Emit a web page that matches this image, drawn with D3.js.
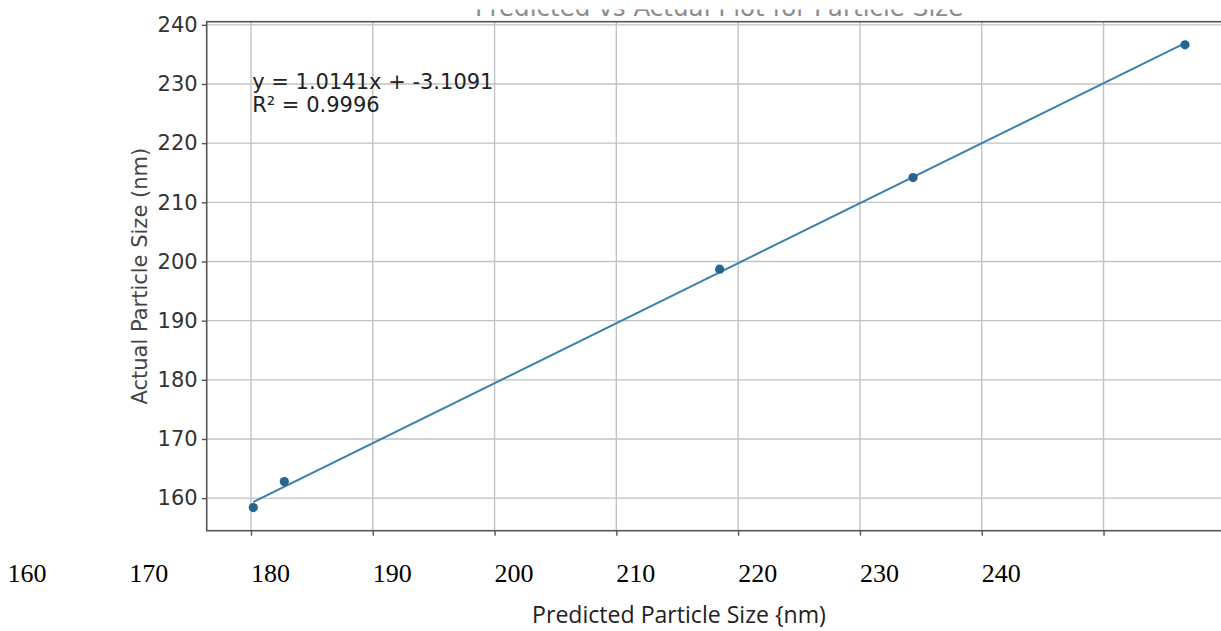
<!DOCTYPE html>
<html>
<head>
<meta charset="utf-8">
<script src="https://cdn.jsdelivr.net/npm/d3@7"></script>
<style>
  html, body { margin: 0; padding: 0; background: #fff; overflow: hidden; }
  svg { display: block; }
</style>
</head>
<body>
<svg id="chart" width="1221" height="631"></svg>
<script>
// ---- data ----
const predicted = [160.19, 162.74, 198.48, 214.36, 236.69];
const actual    = [158.41, 162.81, 198.71, 214.19, 236.62];
const fitSlope = 1.0141;
const fitIntercept = -3.1091;
const rSquared = 0.9996;
const xGridValues = [160, 170, 180, 190, 200, 210, 220, 230];
const yTickValues = [160, 170, 180, 190, 200, 210, 220, 230, 240];
const xTickLabels = ["160", "170", "180", "190", "200", "210", "220", "230", "240"];
const xLabelShift = 20; // the printed x labels are offset by two grid steps in the source
const titleText = "Predicted vs Actual Plot for Particle Size";
const xTitle = "Predicted Particle Size {nm)";
const yTitle = "Actual Particle Size (nm)";

// ---- layout ----
const svg = d3.select("#chart");
const plot = { left: 206.7, right: 1231.6, top: 21.7, bottom: 530.7 };
const pad = (ext) => { const m = (ext[1] - ext[0]) * 0.05; return [ext[0] - m, ext[1] + m]; };

const x = d3.scaleLinear().domain(pad(d3.extent(predicted))).range([plot.left, plot.right]);
const y = d3.scaleLinear().domain(pad(d3.extent(actual))).range([plot.bottom, plot.top]);
const xLabelScale = d3.scaleLinear()
  .domain(x.domain().map(d => d + xLabelShift)).range(x.range());

const tickFont = "'DejaVu Sans', sans-serif";
const fs = 21;

// grid
const grid = svg.append("g");
grid.selectAll("line.vx").data(xGridValues).join("line")
  .attr("x1", d => x(d)).attr("x2", d => x(d))
  .attr("y1", plot.top).attr("y2", plot.bottom)
  .attr("stroke", "#c2c2c2").attr("stroke-width", 1.4);
grid.selectAll("line.hy").data(yTickValues).join("line")
  .attr("x1", plot.left).attr("x2", plot.right)
  .attr("y1", d => y(d)).attr("y2", d => y(d))
  .attr("stroke", "#c2c2c2").attr("stroke-width", 1.4);

// spines
svg.append("rect")
  .attr("x", plot.left).attr("y", plot.top)
  .attr("width", plot.right - plot.left).attr("height", plot.bottom - plot.top)
  .attr("fill", "none").attr("stroke", "#555").attr("stroke-width", 1.6);

// y axis ticks + labels
const yAxis = d3.axisLeft(y).tickValues(yTickValues).tickSize(5).tickPadding(4).tickFormat(d3.format("d"));
const gy = svg.append("g").attr("transform", `translate(${plot.left},0)`).call(yAxis);
gy.select(".domain").remove();
gy.selectAll(".tick line").attr("stroke", "#555").attr("stroke-width", 1.4);
gy.selectAll(".tick text").attr("font-family", tickFont).attr("font-size", fs).attr("fill", "#333");

// x axis tick marks at grid lines (no labels)
const xAxis = d3.axisBottom(x).tickValues(xGridValues).tickSize(5).tickFormat("");
const gx = svg.append("g").attr("transform", `translate(0,${plot.bottom})`).call(xAxis);
gx.select(".domain").remove();
gx.selectAll(".tick line").attr("stroke", "#555").attr("stroke-width", 1.4);

// printed x labels (serif, left-aligned, offset)
svg.append("g").selectAll("text").data(xTickLabels).join("text")
  .attr("x", d => xLabelScale(+d))
  .attr("y", 582)
  .attr("text-anchor", "start")
  .attr("font-family", "'Liberation Serif', 'Times New Roman', serif")
  .attr("font-size", 26)
  .attr("fill", "#000")
  .text(d => d);

// fit line
const xr = d3.extent(predicted);
const fitPts = xr.map(v => [v, fitSlope * v + fitIntercept]);
svg.append("path")
  .attr("d", d3.line().x(d => x(d[0])).y(d => y(d[1]))(fitPts))
  .attr("fill", "none").attr("stroke", "#3b80ae").attr("stroke-width", 2);

// points
svg.append("g").selectAll("circle").data(predicted).join("circle")
  .attr("cx", d => x(d))
  .attr("cy", (d, i) => y(actual[i]))
  .attr("r", 4.6)
  .attr("fill", "#27658f");

// equation text
const eq = svg.append("text")
  .attr("font-family", tickFont).attr("font-size", fs).attr("fill", "#222");
eq.append("tspan").attr("x", x(160.1)).attr("y", 89)
  .text(`y = ${fitSlope.toFixed(4)}x + ${fitIntercept.toFixed(4)}`);
eq.append("tspan").attr("x", x(160.1)).attr("y", 112)
  .text(`R² = ${rSquared.toFixed(4)}`);

// y title
svg.append("text")
  .attr("transform", `translate(147,${(plot.top + plot.bottom) / 2}) rotate(-90)`)
  .attr("text-anchor", "middle")
  .attr("font-family", tickFont).attr("font-size", fs).attr("fill", "#444")
  .text(yTitle);

// x title (Calibri-like)
const xt = svg.append("text")
  .attr("x", 679).attr("y", 623)
  .attr("text-anchor", "middle")
  .attr("font-family", "'Open Sans', 'Noto Sans', sans-serif")
  .attr("font-size", 19).attr("fill", "#222")
  .text(xTitle);
const wanted = 294;
const got = xt.node().getComputedTextLength();
if (got > 0) xt.attr("font-size", 19 * wanted / got);

// title (only its lower part is visible in the source)
svg.append("clipPath").attr("id", "titleClip")
  .append("rect").attr("x", 0).attr("y", 9.5).attr("width", 1221).attr("height", 12);
svg.append("text")
  .attr("clip-path", "url(#titleClip)")
  .attr("x", (plot.left + plot.right) / 2).attr("y", 16)
  .attr("text-anchor", "middle")
  .attr("font-family", tickFont).attr("font-size", 24.6).attr("fill", "#8c8c8c")
  .text(titleText);
</script>
</body>
</html>
